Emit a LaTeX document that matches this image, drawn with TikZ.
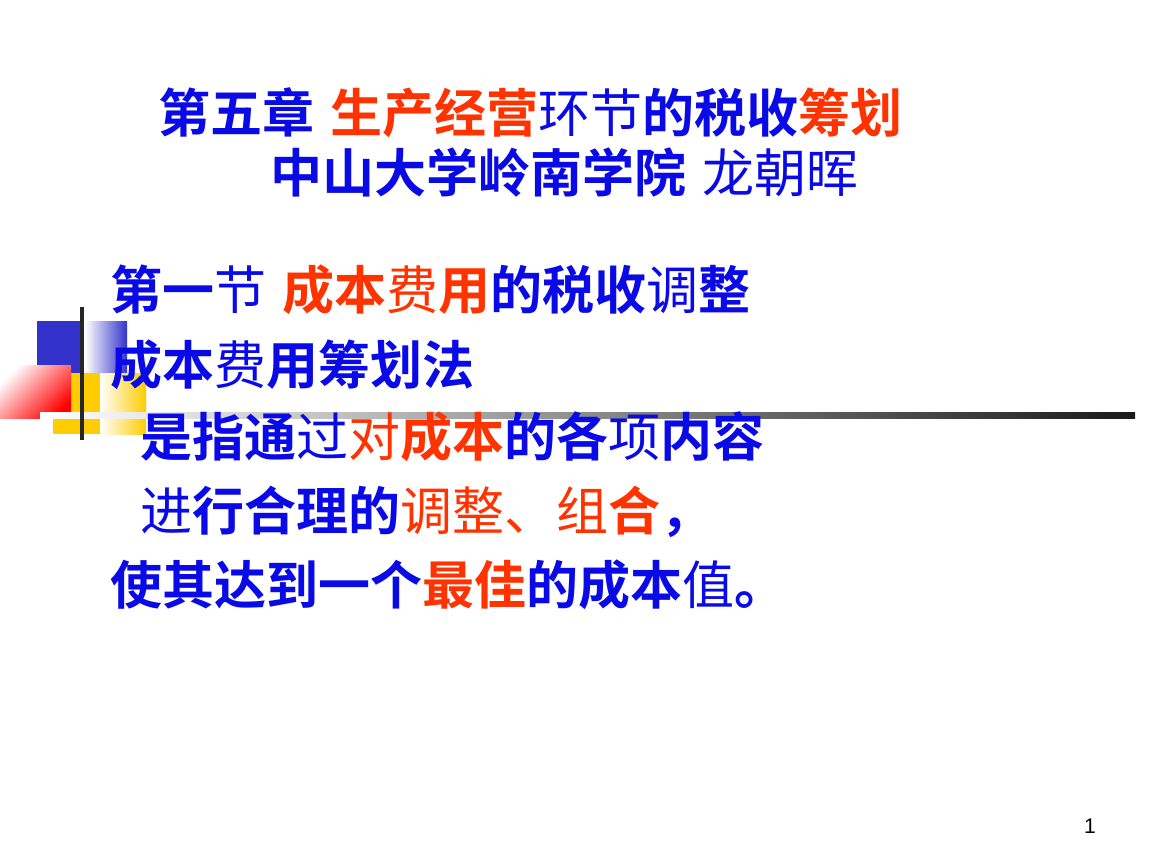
\documentclass[tikz,border=0pt]{standalone}
\usepackage{fontspec}
\newfontfamily\cjkb{Noto Sans CJK SC Bold}
\newfontfamily\cjkr{Noto Sans CJK SC}
\newfontfamily\arialf{Liberation Sans}
\definecolor{tb}{RGB}{10,10,230}
\definecolor{tr}{RGB}{255,51,0}
\definecolor{sqb}{RGB}{51,51,204}
\definecolor{sqy}{RGB}{255,204,0}
\newcommand{\B}[1]{{\cjkb\color{tb}#1}}
\newcommand{\Bn}[1]{{\cjkr\color{tb}#1}}
\newcommand{\R}[1]{{\cjkb\color{tr}#1}}
\newcommand{\Rn}[1]{{\cjkr\color{tr}#1}}
\tikzset{txt/.style={inner sep=0pt, font=\fontsize{37}{42}\selectfont}}
\begin{document}
\begin{tikzpicture}[x=0.025cm,y=-0.025cm]
\useasboundingbox[fill=white] (0,0) rectangle (1152,864);
% decoration
\fill[sqb] (37,321) rectangle (84,374);
\shade[left color=white,right color=sqb] (85,321) rectangle (127,373);
\fill[sqy] (53,373) rectangle (100,434);
\shade[left color=white,right color=sqy] (100,373) rectangle (146,434);
\shade[top color=white,bottom color=red,shading angle=45] (0,365) rectangle (71,418);
\shade[left color=white,right color=black!90] (40,412) rectangle (1135,418);
\fill[black!85] (80,307) rectangle (84,440);
% title
\node[txt,anchor=west] (t1) at (158,113) {\B{第五章} \R{生产经营}\Bn{环节}\B{的税收}\R{筹划}};
\node[txt,anchor=west] (t2) at (270,173) {\B{中山大学岭南学院} \Bn{龙朝晖}};
% body
\node[txt,anchor=west] (l1) at (110,290) {\B{第一}\Bn{节} \R{成本}\Rn{费}\R{用}\B{的税收}\Bn{调}\B{整}};
\node[txt,anchor=west] (l2) at (110,365) {\B{成本}\Bn{费}\B{用筹划法}};
\node[txt,anchor=west] (l3) at (140,437) {\B{是指通}\Bn{过}\Rn{对}\R{成本}\B{的各}\Bn{项}\B{内容}};
\node[txt,anchor=west] (l4) at (140,512) {\Bn{进}\B{行合理的}\Rn{调整、组}\R{合}\B{，}};
\node[txt,anchor=west] (l5) at (110,585) {\B{使其达到一个}\R{最佳}\B{的成本}\Bn{值}\B{。}};
\node[inner sep=0pt,font=\fontsize{15}{17}\selectfont\arialf] (pg) at (1090,826) {1};
\end{tikzpicture}
\end{document}
